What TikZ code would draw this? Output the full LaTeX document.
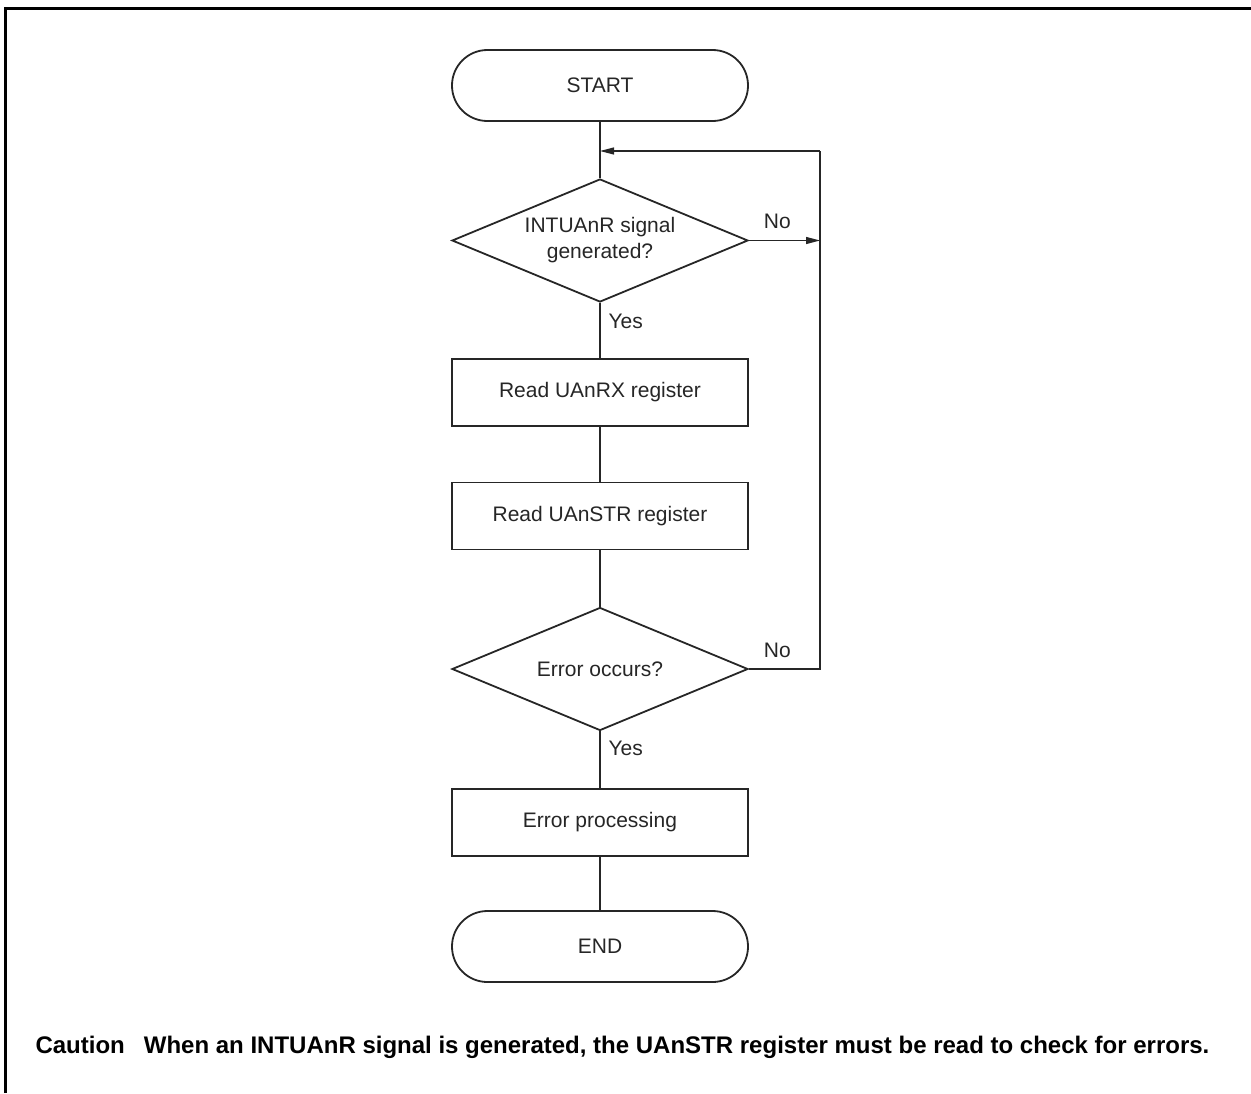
\documentclass[tikz,border=0pt]{standalone}
\usepackage{fontspec}
\setmainfont{Liberation Sans}
\usetikzlibrary{positioning, arrows.meta, shapes.geometric}
\definecolor{ink}{gray}{0.15}
\tikzset{
  term/.style  ={draw=ink, rounded corners=35.4pt, minimum width=296pt,
                 minimum height=71pt, inner sep=0pt, line width=1.8pt},
  proc/.style  ={draw=ink, minimum width=296pt, minimum height=67pt,
                 inner sep=0pt, line width=1.8pt},
  decide/.style={draw=ink, diamond, minimum width=296pt, minimum height=123pt,
                 inner sep=0pt, line width=1.8pt},
  conn/.style  ={draw=ink, line width=1.2pt},
  flow/.style  ={conn, -{Triangle[length=14pt, width=7pt]}},
  lbl/.style   ={inner sep=0pt},
}
\begin{document}
\begin{tikzpicture}[x=1pt, y=1pt, every node/.style={font=\fontsize{21}{26}\selectfont, text=ink}]
  \useasboundingbox (0,0) rectangle (1251,-1093);
  % outer frame
  \draw[line width=3pt] (5.5,-1093) -- (5.5,-8.5) -- (1251,-8.5);

  \node[term]   (start) at (600,-85.5)  {START};
  \node[decide, label={[align=center]center:INTUAnR signal\\generated?}] (sig) at (600,-240.5) {};
  \node[proc]   (rx)    at (600,-392.5) {Read UAnRX register};
  \node[proc]   (str)   at (600,-516)   {Read UAnSTR register};
  \node[decide, label={center:Error occurs?}] (err) at (600,-669) {};
  \node[proc]   (proc)  at (600,-822.5) {Error processing};
  \node[term]   (end)   at (600,-946.5) {END};
  \coordinate (back) at (820,-151);

  \draw[conn] (start) -- (sig);
  \draw[conn] (sig) -- node[lbl, pos=0.34, right=8pt]{Yes} (rx);
  \draw[conn] (rx) -- (str);
  \draw[conn] (str) -- (err);
  \draw[conn] (err) -- node[lbl, pos=0.3, right=8pt]{Yes} (proc);
  \draw[conn] (proc) -- (end);

  \draw[flow] (sig.east) -- node[lbl, pos=0.4, above=11pt]{No} (sig.east -| back);
  \draw[conn] (err.east) -- node[lbl, pos=0.4, above=11pt]{No} (err.east -| back) -- (back);
  \draw[flow] (back) -- (start.south |- back);

  \node[anchor=west, text=black, font=\fontsize{24}{29}\selectfont\bfseries] (note) at (32,-1047)
    {Caution\hspace{19pt}When an INTUAnR signal is generated, the UAnSTR register must be read to check for errors.};
\end{tikzpicture}
\end{document}
